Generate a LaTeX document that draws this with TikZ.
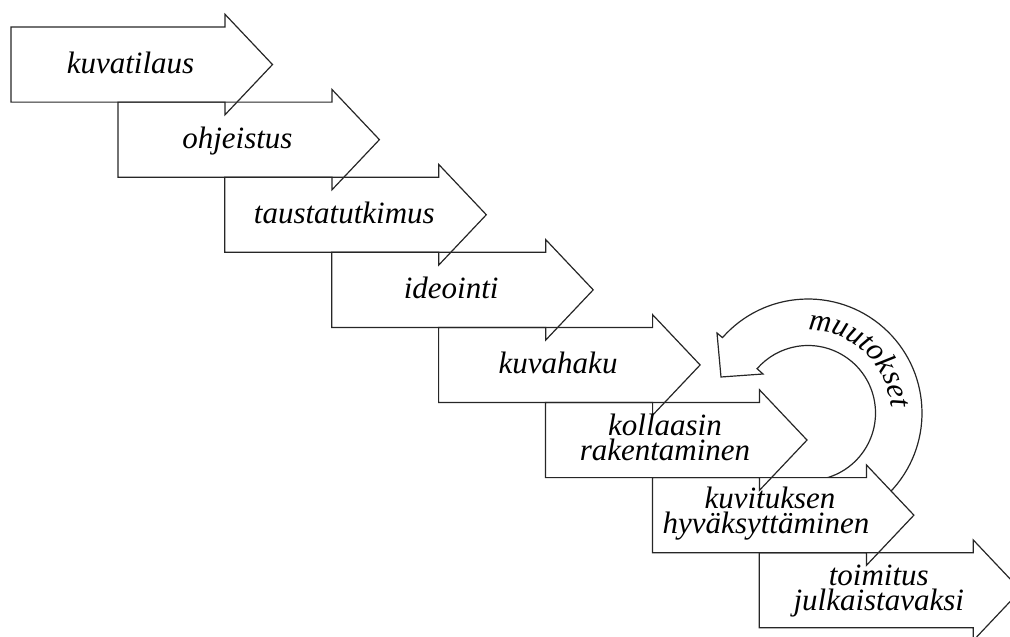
\documentclass[tikz,border=0pt]{standalone}
\usepackage{fontspec}
\setmainfont{Liberation Serif}
\usetikzlibrary{calc,decorations.text}
\begin{document}
\begin{tikzpicture}[x=1pt,y=1pt,
  outline/.style={draw=black!85, line width=1.2pt, line join=miter},
  lbl/.style={anchor=base, inner sep=0pt, font=\fontsize{31}{31}\selectfont\itshape},
]
\useasboundingbox (0,0) rectangle (1010,-637);
\clip (0,0) rectangle (1010,-637);
% loop-back arrow "muutokset"
\coordinate (c) at (808,-413);
\draw[outline, fill=white] ($(c)+(-80:67.5)$) arc[start angle=-80, end angle=139, radius=67.5]
  -- (763,-374) -- (721,-377) -- (717,-333) -- ($(c)+(138.6:114)$)
  arc[start angle=138.6, end angle=-80, radius=114] -- cycle;
\path[decorate, decoration={text along path, text align=left,
  text={|\fontsize{31}{31}\selectfont\itshape|muutokset}}]
  ($(c)+(90:83)$) arc[start angle=90, end angle=-30, radius=83];
% hide the tail of the loop-back arrow behind step 7
\fill[white] (652.3,-477.6) -- (866.3,-477.6) -- (866.3,-464.9) -- (913.8,-515.15)
  -- (866.3,-565.4) -- (866.3,-552.7) -- (652.3,-552.7) -- cycle;
% step arrows
\foreach \i in {0,...,7}{
  \pgfmathsetmacro\L{11+106.9*\i}
  \pgfmathsetmacro\T{27+75.1*\i}
  \coordinate (s\i) at (\L,-\T);
  \draw[outline] (\L,-\T) -- ({\L+214},-\T) -- ({\L+214},{-\T+12.7})
    -- ({\L+261.5},{-\T-37.55}) -- ({\L+214},{-\T-87.8}) -- ({\L+214},{-\T-75.1})
    -- (\L,{-\T-75.1}) -- cycle;
}
% labels
\node[lbl] (l1) at (130.5,-73) {kuvatilaus};
\node[lbl] (l2) at (237.4,-148) {ohjeistus};
\node[lbl] (l3) at (344.3,-223) {taustatutkimus};
\node[lbl] (l4) at (451.2,-298) {ideointi};
\node[lbl] (l5) at (558.1,-373) {kuvahaku};
\node[lbl] (l6a) at (665,-435) {kollaasin};
\node[lbl] (l6b) at (665,-460) {rakentaminen};
\node[lbl] (l7a) at (770,-508) {kuvituksen};
\node[lbl] (l7b) at (766,-533) {hyväksyttäminen};
\node[lbl] (l8a) at (878.8,-585) {toimitus};
\node[lbl] (l8b) at (878.8,-610) {julkaistavaksi};
\end{tikzpicture}
\end{document}
